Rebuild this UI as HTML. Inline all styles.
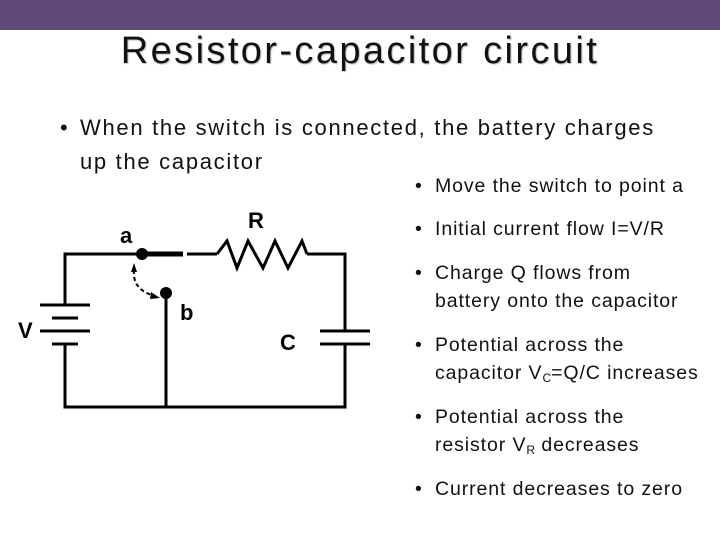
<!DOCTYPE html>
<html><head><style>
body{margin:0;width:720px;height:540px;background:#fff;position:relative;overflow:hidden;font-family:"Liberation Sans",sans-serif;color:#000}
.bar{position:absolute;left:0;top:0;width:720px;height:30px;background:#604a7b}
.t{position:absolute;left:0;width:720px;top:30px;text-align:center;font-size:38px;text-shadow:1px 1px 1px #bbb;letter-spacing:2.4px;color:#111}
.p{position:absolute;font-size:22px;line-height:34px;letter-spacing:1.7px;color:#111}
.r{position:absolute;font-size:19.5px;line-height:28px;letter-spacing:0.9px;color:#111}
.r span.b,.p span.b{position:absolute;left:-20px;letter-spacing:0}
sub{font-size:12px;vertical-align:-3px;line-height:0;letter-spacing:0}
</style></head><body>
<div class="bar"></div>
<div class="t">Resistor-capacitor circuit</div>
<div class="p" style="left:80px;top:111px"><span class="b">•</span>When the switch is connected, the battery charges<br>up the capacitor</div>
<div class="r" style="left:435px;top:172px"><span class="b">•</span>Move the switch to point a</div>
<div class="r" style="left:435px;top:215px"><span class="b">•</span>Initial current flow I=V/R</div>
<div class="r" style="left:435px;top:259px"><span class="b">•</span>Charge Q flows from<br>battery onto the capacitor</div>
<div class="r" style="left:435px;top:331px"><span class="b">•</span>Potential across the<br>capacitor V<sub>C</sub>=Q/C increases</div>
<div class="r" style="left:435px;top:403px"><span class="b">•</span>Potential across the<br>resistor V<sub>R</sub> decreases</div>
<div class="r" style="left:435px;top:475px"><span class="b">•</span>Current decreases to zero</div>
<svg style="position:absolute;left:0;top:0" width="720" height="540">
<g stroke="#000" stroke-width="3" fill="none">
<polyline points="65,305 65,254 142,254"/>
<polyline points="65,344 65,407 345,407 345,344"/>
<polyline points="345,331 345,254 307,254"/>
<line x1="166" y1="293" x2="166" y2="407"/>
<line x1="142" y1="254" x2="183" y2="254" stroke-width="5"/>
<line x1="187" y1="254" x2="217" y2="254"/>
<polyline points="217,254 227,241 237,268 248,241 263,268 275,241 288,268 302,241 307,254"/>
<line x1="40" y1="305" x2="90" y2="305"/>
<line x1="52" y1="318" x2="78" y2="318"/>
<line x1="40" y1="331" x2="90" y2="331"/>
<line x1="52" y1="344" x2="78" y2="344"/>
<line x1="320" y1="331" x2="370" y2="331"/>
<line x1="320" y1="344" x2="370" y2="344"/>
<path d="M134,270 Q132,290 155,296" stroke-width="2" stroke-dasharray="4,3"/>
</g>
<circle cx="142" cy="254" r="6"/>
<circle cx="166" cy="293" r="6"/>
<polygon points="134,263 131,272 137,272"/>
<polygon points="160,298 151,292 150,299"/>
<g font-weight="bold" font-size="22">
<text x="120" y="243">a</text>
<text x="248" y="228">R</text>
<text x="180" y="320">b</text>
<text x="280" y="350">C</text>
<text x="18" y="338">V</text>
</g>
</svg>
</body></html>
